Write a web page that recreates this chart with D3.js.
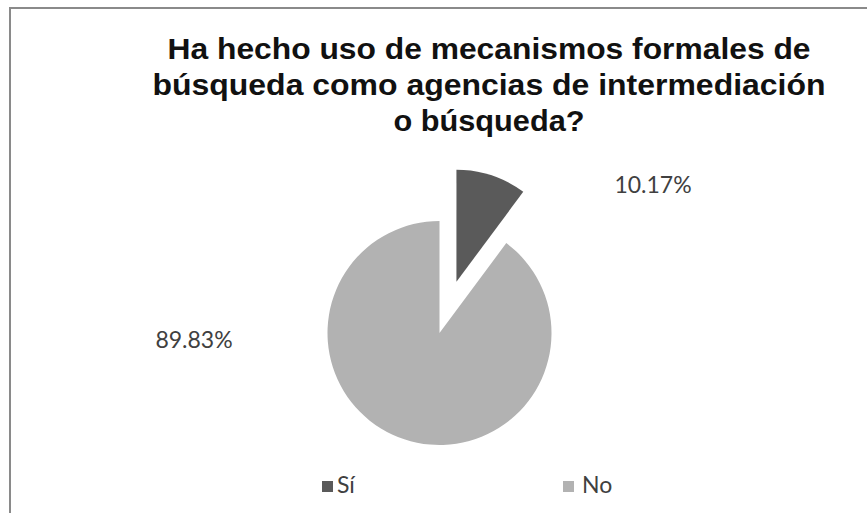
<!DOCTYPE html>
<html><head><meta charset="utf-8">
<script src="https://cdn.jsdelivr.net/npm/d3@7"></script>
<style>html,body{margin:0;padding:0;background:#fff;}svg{display:block;}</style>
</head><body>
<svg id="chart" width="867" height="513"></svg>
<script>
const categories = ["Sí", "No"];
const values = [10.17, 89.83];
const labels = ["10.17%", "89.83%"];
const colors = ["#5a5a5a", "#b2b2b2"];
const titleLines = ["Ha hecho uso de mecanismos formales de", "búsqueda como agencias de intermediación", "o búsqueda?"];

const svg = d3.select("#chart");
// frame
svg.append("rect").attr("x", 10).attr("y", 8).attr("width", 900).attr("height", 600)
  .attr("fill", "#fff").attr("stroke", "#8a8a8a").attr("stroke-width", 2);

// title
const titleWidths = [643, 673, 191];
const title = svg.append("text").attr("text-anchor", "middle")
  .attr("font-family", "Liberation Sans, Arial, sans-serif").attr("font-weight", "bold")
  .attr("font-size", 30).attr("fill", "#111");
titleLines.forEach((t, i) => {
  title.append("tspan").attr("x", 489).attr("y", 59 + i * 36)
    .attr("textLength", titleWidths[i]).attr("lengthAdjust", "spacingAndGlyphs").text(t);
});

const cx = 439.5, cy = 333, r = 112, explode = 54;
const pie = d3.pie().sort(null).value(d => d)(values);
const arc = d3.arc().innerRadius(0).outerRadius(r);
const g = svg.append("g").attr("transform", `translate(${cx},${cy})`);
g.selectAll("path").data(pie).join("path")
  .attr("d", arc)
  .attr("fill", (d, i) => colors[i])
  .attr("transform", (d, i) => {
    if (i !== 0) return null;
    const a = (d.startAngle + d.endAngle) / 2;
    return `translate(${Math.sin(a) * explode},${-Math.cos(a) * explode})`;
  });

// data labels
const labelPos = [[653, 193], [194, 348]];
svg.selectAll("text.lbl").data(labels).join("text").attr("class", "lbl")
  .attr("x", (d, i) => labelPos[i][0]).attr("y", (d, i) => labelPos[i][1])
  .attr("text-anchor", "middle").attr("font-family", "Lato, Open Sans, sans-serif")
  .attr("font-size", 23).attr("fill", "#404040").text(d => d);

// legend
const legX = [322, 563];
const leg = svg.selectAll("g.leg").data(categories).join("g").attr("class", "leg")
  .attr("transform", (d, i) => `translate(${legX[i]},481)`);
leg.append("rect").attr("width", 11).attr("height", 11).attr("fill", (d, i) => colors[i]);
leg.append("text").attr("x", (d, i) => i === 0 ? 15 : 19).attr("y", 12)
  .attr("font-family", "Lato, Open Sans, sans-serif").attr("font-size", 23)
  .attr("fill", "#404040").text(d => d);
</script>
</body></html>
